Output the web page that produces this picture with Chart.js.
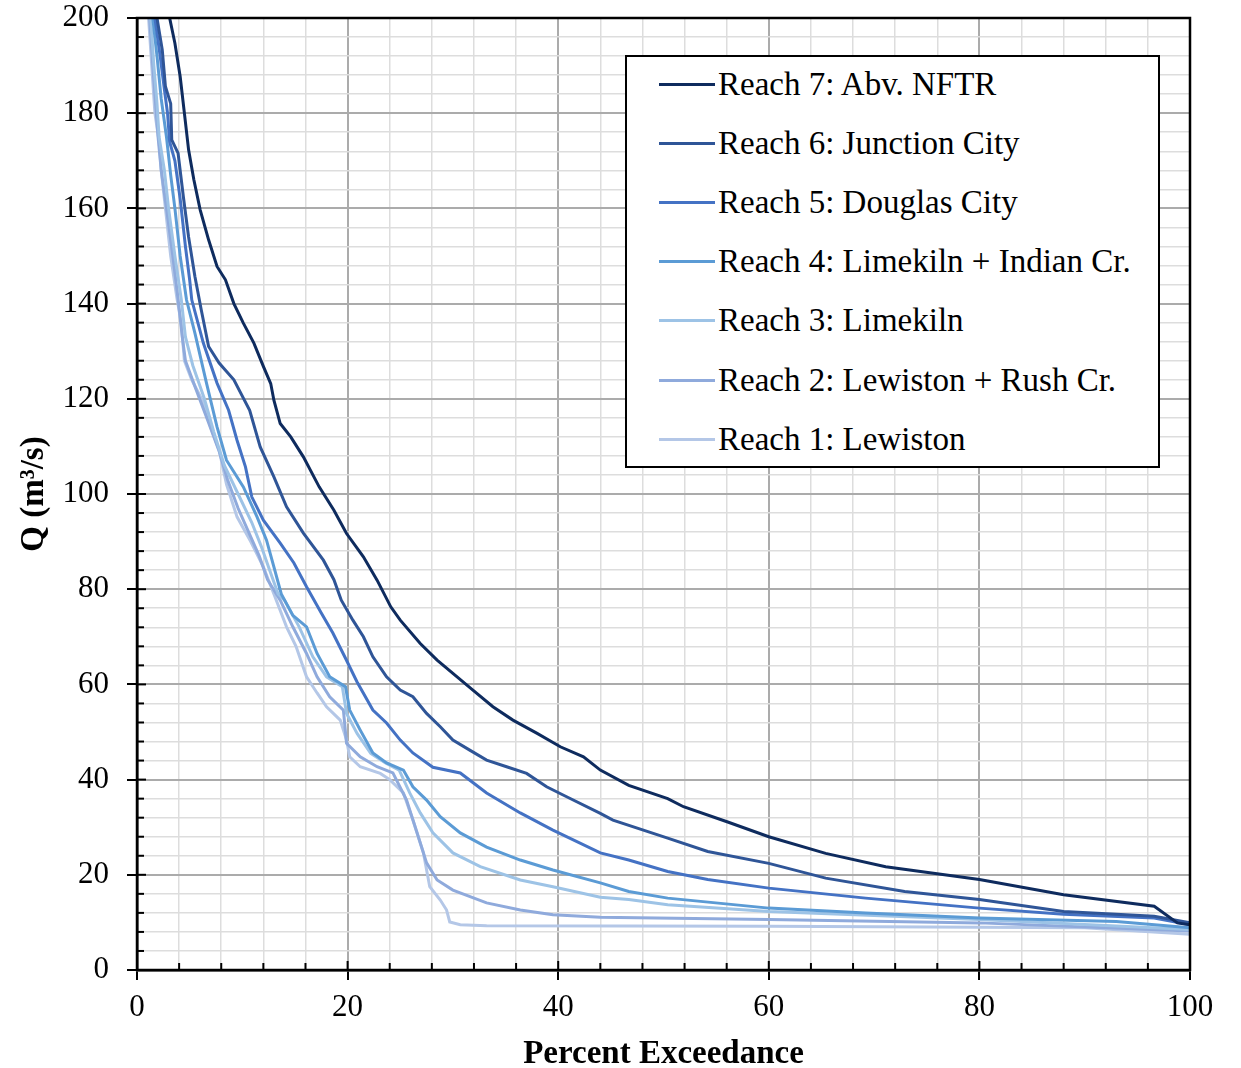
<!DOCTYPE html>
<html>
<head>
<meta charset="utf-8">
<script src="https://cdn.jsdelivr.net/npm/chart.js@4.4.1/dist/chart.umd.min.js"></script>
<style>
  html, body { margin: 0; padding: 0; background: #fff; }
  #wrap { position: relative; width: 1241px; height: 1068px; }
  #legend {
    position: absolute; left: 625px; top: 55px; width: 531px; height: 409px;
    border: 2px solid #000; background: #fff; box-sizing: content-box;
    font-family: 'Liberation Serif', 'Times New Roman', serif; font-size: 33px; color: #000;
  }
  .lg-row { position: absolute; left: 32px; height: 34px; display: flex; align-items: center; white-space: nowrap; }
  .lg-line { width: 56px; height: 3px; margin-right: 3px; }
</style>
</head>
<body>
<div id="wrap">
  <canvas id="fdc"></canvas>
  <div id="legend"></div>
</div>
<script>
// Flow duration curves, one per reach: [percent exceedance, Q (m3/s)]
const reach7 = [[3.1,200],[3.6,194.7],[4.1,187.7],[4.5,180],[4.9,172.3],[5.4,166],[6.0,159.7],[6.8,153.4],[7.6,147.8],[8.4,145],[9.2,140],[10.1,135.9],[11.1,131.7],[12.0,126.8],[12.7,123.2],[13.0,119.7],[13.6,114.8],[14.6,112],[15.8,107.8],[17.3,101.5],[18.7,96.6],[19.9,91.7],[21.5,86.8],[22.8,81.9],[24.1,76.3],[25.0,73.5],[26.9,68.6],[28.5,65.1],[30.0,62.3],[31.9,58.8],[33.8,55.3],[35.7,52.5],[38.0,49.7],[40.2,46.9],[42.4,44.8],[44.0,42.0],[46.7,38.8],[50.4,36.0],[51.9,34.3],[56.1,31.1],[60,28],[65.4,24.5],[71.1,21.7],[80,19],[88,15.8],[96.6,13.4],[98.8,9.9],[100,9.5]];
const reach6 = [[1.9,200],[2.4,193.3],[2.7,185.6],[3.2,182],[3.3,174.4],[3.9,171.6],[4.4,162.5],[4.9,154],[5.5,145.7],[6.1,138.7],[6.8,131],[7.8,127.5],[9.2,124],[10.7,117.6],[11.7,109.9],[13.0,103.6],[14.2,97.3],[15.8,91.8],[17.7,86.1],[18.7,82],[19.4,77.7],[20.5,73.5],[21.5,70],[22.4,65.8],[23.7,61.6],[25.0,58.8],[26.2,57.4],[27.5,53.9],[28.8,51.1],[30.0,48.3],[31.6,46.2],[33.2,44.1],[35.1,42.7],[37.0,41.3],[38.9,38.5],[40.8,36.4],[44,32.9],[45.2,31.5],[50.4,27.7],[54.2,24.9],[60,22.4],[65.4,19.3],[72.9,16.5],[80,14.8],[88,12.3],[96.6,11.3],[100,9.9]];
const reach5 = [[1.7,200],[2.2,192],[2.6,185],[2.9,180],[3.1,174],[3.6,170],[4.1,162],[4.6,152],[5.0,145],[5.2,140.8],[6.3,131.7],[7.6,123.3],[8.7,117.6],[9.5,111.3],[10.3,105.7],[10.9,99.4],[12.0,94.5],[13.6,89.7],[14.9,85.5],[16.1,80.5],[17.5,75],[18.6,70.8],[19.8,65.5],[20.9,60.5],[22.4,54.6],[23.7,51.9],[25.0,48.3],[26.2,45.6],[28.1,42.6],[30.7,41.4],[33.2,37.2],[36.4,33],[39.5,29.4],[44,24.6],[46.7,23.1],[50.4,20.7],[54.2,19],[60,17.2],[69.2,15.1],[80,13],[88,11.7],[96.6,10.9],[100,9.5]];
const reach4 = [[1.5,200],[1.9,192],[2.3,183],[2.8,175],[3.2,167],[3.6,160],[4.1,150],[4.7,140.8],[5.5,133.8],[6.6,123.3],[7.6,114.1],[8.5,107.1],[10.1,101.5],[11.4,95.2],[12.3,90.3],[13.0,84.7],[13.7,79],[14.8,74.5],[16.1,72.1],[17.1,66.5],[18.3,61.6],[19.8,59.5],[20.2,54.6],[21.2,50.4],[22.4,45.6],[23.7,43.5],[25.3,42],[26.2,38.5],[27.5,35.7],[28.8,32.2],[30.7,28.8],[33.2,25.8],[36.4,23.1],[39.5,21],[44,18.3],[46.7,16.5],[50.4,15.1],[60,13],[69.2,12],[80,10.9],[93,10.2],[100,8.9]];
const reach3 = [[1.3,200],[1.6,190],[1.9,182],[2.1,175],[2.6,168],[3.0,160],[3.6,150],[4.2,141],[4.6,133],[5.3,127],[6.4,120],[7.3,113],[8.3,106],[9.6,100],[10.9,94],[11.8,89],[12.6,84],[13.4,79],[14.0,77.7],[15.4,72.1],[16.7,65.8],[18.0,61.6],[19.5,59.5],[19.9,53.9],[20.9,49.7],[22.2,45.5],[23.6,43.5],[24.9,42],[25.9,37.2],[26.9,33],[28.1,28.8],[30,24.6],[32.6,21.7],[36.4,18.9],[39.5,17.5],[44,15.3],[46.7,14.8],[50.4,13.7],[60,12.3],[80,10.6],[100,8.5]];
const reach2 = [[1.2,200],[1.5,190],[1.8,181],[2.0,175],[2.3,168],[2.8,160],[3.4,150],[3.9,141],[4.3,133],[4.6,128],[5.6,122],[6.8,115],[7.8,109],[8.6,103],[9.6,97],[10.6,92],[11.6,87],[12.4,82],[13.6,77.7],[14.8,72.1],[16.1,66.5],[17.1,61.6],[18.3,57.4],[19.6,54.6],[19.9,47.6],[21.2,44.8],[22.8,42.7],[24.3,41.4],[25.6,35.7],[26.6,28.8],[27.5,22.5],[28.5,18.9],[30,16.8],[33.2,14.1],[36.4,12.6],[39.5,11.6],[44,11.1],[60,10.6],[80,9.9],[100,8.2]];
const reach1 = [[1.1,200],[1.4,190],[1.7,180],[2.1,174],[2.3,168],[2.7,160],[3.2,150],[3.8,141],[4.2,136],[4.5,128],[5.2,124],[6.2,119.7],[7.0,114],[7.8,109.2],[8.5,102],[9.5,95.2],[10.8,90],[12.0,84.7],[13.0,79],[14.2,72.1],[15.1,68],[16.1,61.6],[17.1,58.2],[18.0,55.3],[19.3,52.5],[19.9,48.3],[20.2,44.8],[21.2,42.7],[23.1,41.3],[24.0,40],[25.3,37.2],[26.2,31.5],[27.2,24.6],[27.8,17.5],[28.8,14.7],[29.4,12.6],[29.7,10.1],[30.7,9.5],[33.2,9.3],[60,9.2],[90,8.9],[100,7.5]];

const reachLabels = ['Reach 7: Abv. NFTR', 'Reach 6: Junction City', 'Reach 5: Douglas City',
  'Reach 4: Limekiln + Indian Cr.', 'Reach 3: Limekiln', 'Reach 2: Lewiston + Rush Cr.', 'Reach 1: Lewiston'];
const reachSeries = [reach7, reach6, reach5, reach4, reach3, reach2, reach1];
const reachColors = ['#0e2b5e', '#2f5597', '#4472c4', '#5b9bd5', '#9dc3e6', '#8faadc', '#b4c7e7'];

const SERIF = "'Liberation Serif', 'Times New Roman', serif";
const isMajor = v => Math.abs(v % 20) < 1e-6;

// ── Inner minor/major tick marks and the closed plot frame ────────
const frameTicks = {
  id: 'frameTicks',
  afterDraw(chart) {
    const { ctx, chartArea: a, scales } = chart;
    ctx.save();
    ctx.strokeStyle = '#000';
    ctx.lineWidth = 2;
    scales.x.ticks.forEach(t => {
      const px = scales.x.getPixelForValue(t.value);
      const len = isMajor(t.value) ? 9 : 7;
      ctx.beginPath(); ctx.moveTo(px, a.bottom); ctx.lineTo(px, a.bottom - len); ctx.stroke();
    });
    scales.y.ticks.forEach(t => {
      const py = scales.y.getPixelForValue(t.value);
      const len = isMajor(t.value) ? 9 : 7;
      ctx.beginPath(); ctx.moveTo(a.left, py); ctx.lineTo(a.left + len, py); ctx.stroke();
    });
    ctx.lineWidth = 2.5;
    ctx.strokeRect(a.left, a.top, a.right - a.left, a.bottom - a.top);
    ctx.restore();
  }
};

function gridOpts() {
  return {
    color: c => (c.tick && isMajor(c.tick.value)) ? '#ababab' : '#dddddd',
    lineWidth: c => (c.tick && isMajor(c.tick.value)) ? 2 : 1.5,
    tickColor: c => (c.tick && isMajor(c.tick.value)) ? '#000' : 'rgba(0,0,0,0)',
    tickLength: 10,
    tickWidth: 2,
  };
}

const chart = new Chart(document.getElementById('fdc'), {
  type: 'line',
  data: {
    datasets: reachSeries.map((s, i) => ({
      label: reachLabels[i],
      data: s.map(p => ({ x: p[0], y: p[1] })),
      borderColor: reachColors[i],
      borderWidth: 3,
      pointRadius: 0,
      tension: 0,
      fill: false,
    }))
  },
  options: {
    responsive: true,
    maintainAspectRatio: false,
    animation: false,
    layout: { padding: { top: 18, right: 51, left: 0, bottom: 0 } },
    plugins: { legend: { display: false }, tooltip: { enabled: false } },
    scales: {
      x: {
        type: 'linear', min: 0, max: 100,
        afterFit: s => { s.height = 98; s.paddingLeft = 0; s.paddingRight = 0; },
        ticks: {
          stepSize: 4, autoSkip: false, maxRotation: 0, padding: 9,
          color: '#000', font: { family: SERIF, size: 31 },
          callback: v => isMajor(v) ? String(v) : '',
        },
        grid: gridOpts(),
        border: { color: '#000', width: 2.5 },
        title: {
          display: true, text: 'Percent Exceedance', color: '#000',
          font: { family: SERIF, size: 33, weight: 'bold', lineHeight: 0.8 },
          padding: { top: 0, bottom: 0 },
        },
      },
      y: {
        type: 'linear', min: 0, max: 200,
        afterFit: s => { s.width = 137; s.paddingTop = 0; s.paddingBottom = 0; },
        ticks: {
          stepSize: 4, autoSkip: false, padding: 18,
          color: '#000', font: { family: SERIF, size: 31 },
          callback: v => isMajor(v) ? String(v) : '',
        },
        grid: gridOpts(),
        border: { color: '#000', width: 2.5 },
        title: {
          display: true, text: 'Q (m³/s)', color: '#000',
          font: { family: SERIF, size: 33, weight: 'bold', lineHeight: 1 },
          padding: { top: 18, bottom: 0 },
        },
      },
    },
  },
  plugins: [frameTicks],
});

// ── HTML legend built from the datasets ───────────────────────────
const legend = document.getElementById('legend');
chart.data.datasets.forEach((d, i) => {
  const row = document.createElement('div');
  row.className = 'lg-row';
  row.style.top = (10 + i * 59.2) + 'px';
  row.innerHTML = `<div class="lg-line" style="background:${d.borderColor}"></div><span>${d.label}</span>`;
  legend.appendChild(row);
});
</script>
</body>
</html>
